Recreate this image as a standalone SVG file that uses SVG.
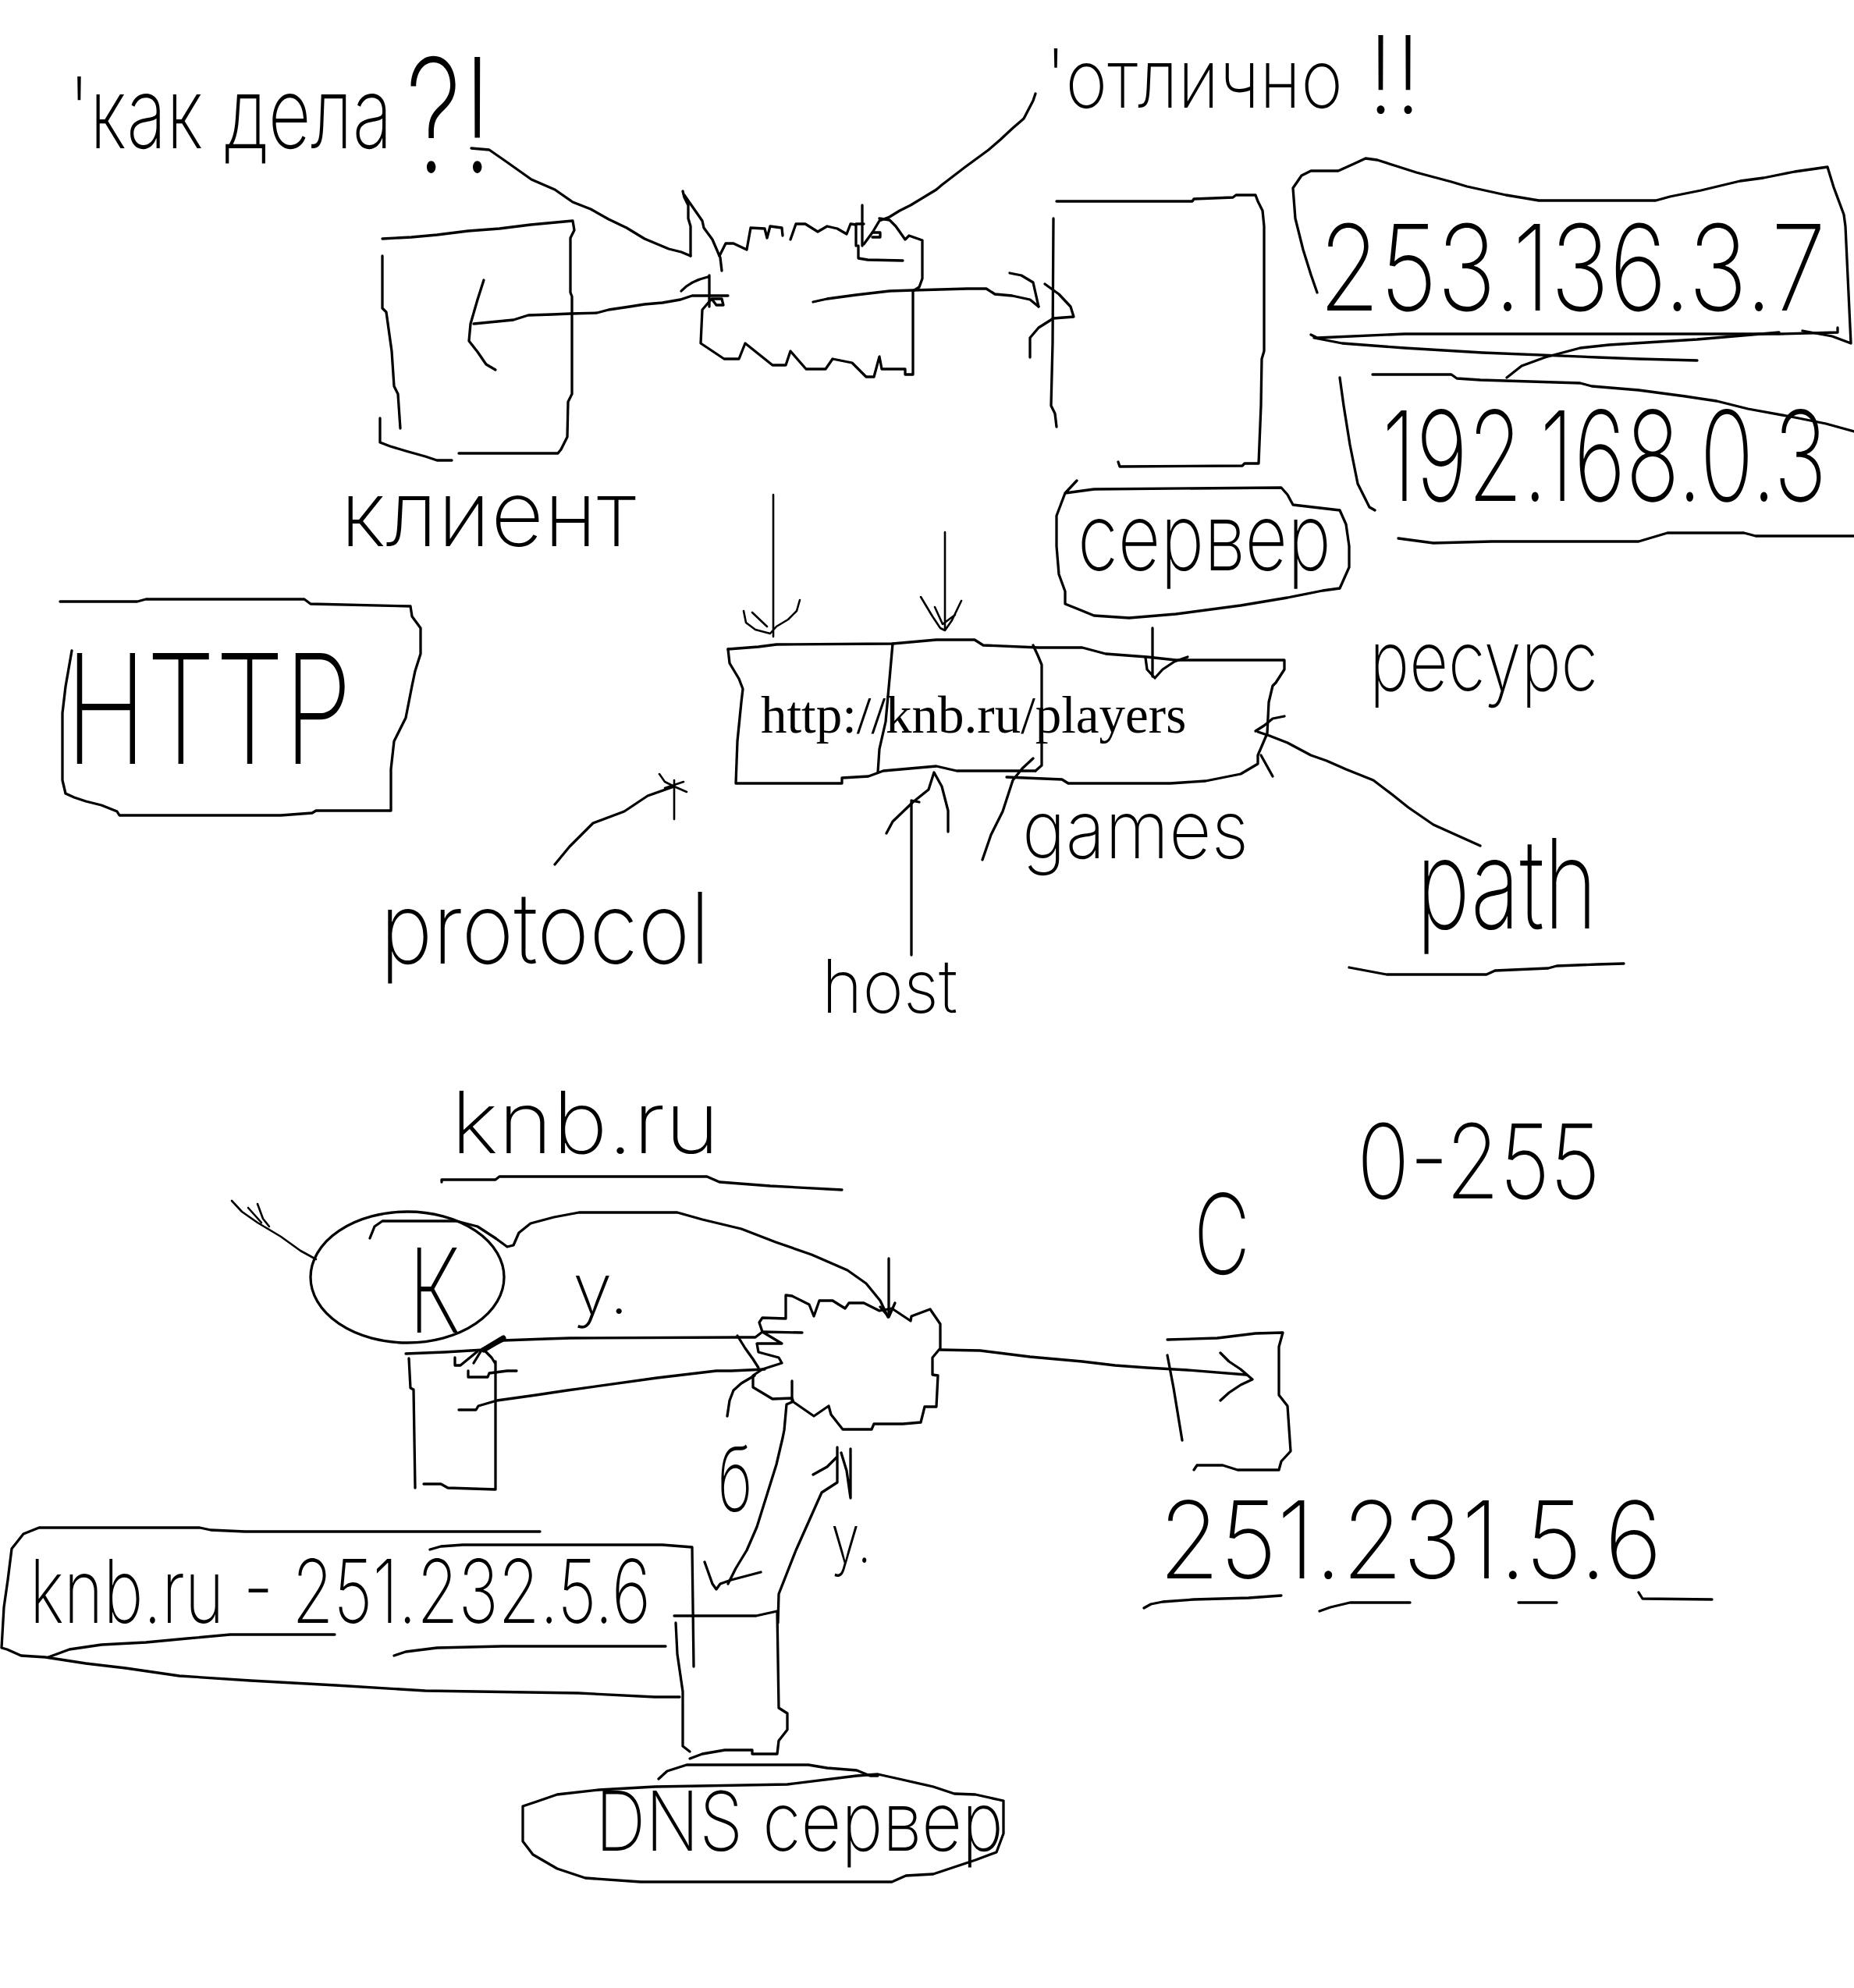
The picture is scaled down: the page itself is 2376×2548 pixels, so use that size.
<svg xmlns="http://www.w3.org/2000/svg" width="2376" height="2548" viewBox="0 0 2376 2548">
<style>
.s{fill:none;stroke:#000;stroke-width:3.3;stroke-linejoin:round;stroke-linecap:round}
.t{fill:none;stroke:#000;stroke-width:2.6;stroke-linejoin:round;stroke-linecap:round}
.h{font-family:Inter,"Liberation Sans","DejaVu Sans",sans-serif;font-weight:200;fill:#000}
.u{font-family:"Liberation Serif","Times New Roman",serif;font-size:67px;fill:#000}
</style>
<rect width="2376" height="2548" fill="#fff"/>

<g id="connectors">
  <path class="s" d="M604,190 L627,192 L650,208 L681,230 L711,243 L734,259 L757,268 L780,281 L803,292 L826,306 L857,319 L873,323 L885,328"/>
  <path class="s" d="M875,245 L877,253 L882,263 L882,280 L885,290 L885,328 M877,250 L900,283 L902,292 L913,307 L922,328"/>
  <path class="s" d="M1327,120 L1324,129 L1312,152 L1297,165 L1282,179 L1267,192 L1237,214 L1207,237 L1200,243 L1167,263 L1153,270 L1140,278 L1127,283 L1118,298 L1107,313"/>
  <path class="s" d="M1105,263 L1105,315 M1097,315 L1097,287 L1107,287 M1118,298 L1128,298 L1128,304 L1118,304 M1100,315 L1100,331 L1112,333 L1157,334"/>
  <path class="s" d="M933,379 L887,379 L872,384 L849,388 L826,390 L807,393 L780,397 L765,401 L731,402 L708,403 L677,404 L658,410 L607,415"/>
  <path class="s" d="M620,359 L612,384 L603,415 L601,437 L612,451 L623,467 L635,474"/>
  <path class="s" d="M909,353 L909,393 M873,373 Q885,360 907,355"/>
  <path class="s" d="M1042,387 L1060,383 L1097,378 L1140,373 L1170,372 L1240,370 L1264,370 L1275,377 L1297,379 L1320,384 L1331,393"/>
  <path class="s" d="M1294,350 L1309,353 L1324,362 L1331,393 M1339,364 L1357,377 L1372,393 L1376,406 L1350,408 L1331,420 L1320,433 L1320,458"/>
  <path class="s" d="M1684,433 L1720,440 L1800,446 L1900,452 L2047,458 L2100,460 L2175,462"/>
  <path class="s" d="M1931,484 L1950,469 L1980,458 L2025,446 L2062,442 L2175,435 L2280,426"/>
  <path class="t" d="M991,634 L991,816 M953,783 L956,798 L968,807 L987,812 M1025,769 L1021,783 L1010,794 L995,803 L987,812 M964,785 L983,803"/>
  <path class="t" d="M1211,682 L1211,808 M1180,765 L1195,790 L1205,805 L1211,808 L1220,795 L1232,770 M1198,778 L1208,800 L1224,788"/>
  <path class="s" d="M1477,805 L1477,867 M1468,843 L1470,858 L1480,869 L1490,858 L1505,848 L1522,842"/>
  <path class="s" d="M1897,1084 L1837,1057 L1805,1035 L1785,1019 L1760,1000 L1725,986 L1700,975 L1680,968 L1650,952 L1627,943 L1612,938"/>
  <path class="s" d="M1609,937 L1620,930 L1631,921 L1646,918 M1616,968 L1631,995"/>
  <path class="s" d="M1259,1102 L1270,1070 L1285,1040 L1298,1000 L1310,985 L1324,972"/>
  <path class="s" d="M1168,1224 L1168,1026 L1178,1028"/>
  <path class="s" d="M1136,1068 L1144,1053 L1170,1028 L1190,1012 L1197,990 L1207,1008 L1215,1039 L1215,1066"/>
  <path class="s" d="M711,1108 L730,1085 L760,1055 L800,1040 L830,1020 L864,1008"/>
  <path class="t" d="M845,992 L852,1002 L864,1008 L880,1015 M864,1000 L864,1050 M852,1010 L876,1002"/>
  <path class="t" d="M297,1539 L310,1553 L330,1567 L360,1585 L385,1603 L405,1614 M330,1543 L337,1562 L345,1572 M318,1548 L335,1567"/>
  <path class="s" d="M635,1587 L650,1598 L658,1596 L665,1580 L680,1568 L710,1560 L742,1554 L868,1554 L900,1563 L950,1575 L994,1592 L1040,1608 L1086,1628 L1110,1645 L1128,1667 L1138,1688"/>
  <path class="s" d="M1139,1613 L1139,1688 M1128,1675 L1139,1688 L1147,1670"/>
  <path class="s" d="M520,1735 L570,1733 L620,1730 L645,1718 L700,1716 L731,1715 L949,1714 L968,1714 L977,1707 L1028,1708"/>
  <path d="M620,1730 L645,1715" stroke="#000" stroke-width="7" stroke-linecap="round"/>
  <path class="s" d="M583,1740 L583,1750 L590,1750 L612,1732 M607,1747 L618,1729 M600,1757 L600,1765 L625,1765 L627,1760 L650,1757 L662,1757"/>
  <path class="s" d="M588,1807 L610,1807 L613,1802 L637,1795 L687,1788 L727,1782 L842,1766 L918,1757 L937,1757 L980,1755"/>
  <path class="s" d="M945,1712 L955,1728 L965,1742 L972,1753"/>
  <path class="s" d="M1205,1730 L1256,1731 L1320,1739 L1387,1745 L1429,1750 L1470,1753 L1522,1756 L1597,1762"/>
  <path class="s" d="M1564,1734 L1575,1745 L1590,1755 L1605,1768 L1590,1775 L1575,1785 L1564,1795"/>
  <path class="s" d="M1015,1770 L1015,1797 L1008,1800 L1005,1833 L1003,1843 L995,1877 L970,1957 L957,1987 L943,2010 L933,2030"/>
  <path class="s" d="M903,2002 L913,2030 L918,2037 L923,2030 L937,2025 L975,2015"/>
  <path class="s" d="M997,2080 L998,2043 L1020,1987 L1053,1913 L1073,1900 L1073,1855 M1042,1890 L1060,1880 L1073,1867 M1078,1862 L1085,1885 L1090,1920 M1090,1857 L1090,1920"/>
  <path class="s" d="M932,1815 L935,1795 L940,1782 L950,1773 L967,1763"/>
</g>

<g id="client-top">
  <path class="s" d="M490,306 L527,304 L560,301 L600,296 L640,293 L680,288 L734,283 L736,295 L731,305 L731,375 L733,380 L733,505 L728,515 L727,560 L719,576 L715,581 L588,581"/>
  <path class="s" d="M490,328 L490,395 L495,400 L502,450 L505,495 L510,505 L513,549 M487,536 L487,567 L500,572 L520,578 L545,585 L560,590 L579,590"/>
</g>

<g id="cloud-top">
  <path class="s" d="M922,328 L930,312 L940,312 L957,320 L962,292 L980,293 L983,305 L987,290 L1002,292 L1003,302 M1013,307 L1020,287 L1032,287 L1048,297 L1060,290 L1073,293 L1085,300 L1090,287 L1097,288 M1127,280 L1140,282 L1148,290 L1160,307 L1165,302 L1182,308 L1182,357 L1178,368 L1170,373 L1170,480 L1160,480 L1160,473 L1130,473 L1127,457 L1120,483 L1110,483 L1092,465 L1067,460 L1058,473 L1033,473 L1013,450 L1007,468 L990,468 L955,440 L947,460 L928,460 L898,440 L900,397 L912,383 L918,391 L927,391 L925,383 L912,383"/>
  <path class="s" d="M923,330 L925,347"/>
</g>

<g id="server-top">
  <path class="s" d="M1354,258 L1528,258 L1530,255 L1580,253 L1584,250 L1609,250 L1612,258 L1618,270 L1620,290 L1620,450 L1617,460 L1616,520 L1613,594 L1595,594 L1592,597 L1435,598 L1433,592"/>
  <path class="s" d="M1350,280 L1349,440 L1347,520 L1352,530 L1354,547"/>
</g>

<g id="server-label">
  <path class="s" d="M1380,616 L1365,632 L1402,627 L1642,625 L1650,634 L1657,647 L1717,654 L1725,672 L1729,700 L1729,727 L1717,754 L1695,757 L1650,766 L1590,776 L1507,787 L1447,792 L1402,789 L1380,780 L1365,774 L1365,758 L1357,736 L1354,700 L1354,661 L1365,632"/>
  <text class="h" transform="translate(1381,731) scale(1,1.25)" font-size="95" textLength="325" lengthAdjust="spacingAndGlyphs">сервер</text>
</g>

<g id="ip-public">
  <path class="s" d="M1688,375 L1680,352 L1670,320 L1660,280 L1657,241 L1668,225 L1680,219 L1715,219 L1735,210 L1750,203 L1765,205 L1790,213 L1815,221 L1860,233 L1880,239 L1930,250 L1972,257 L2122,257 L2140,252 L2180,244 L2230,232 L2260,228 L2300,220 L2342,214 L2350,240 L2363,275 L2365,290 L2372,440 L2348,431 L2310,424"/>
  <path class="s" d="M1680,429 L1688,433 L1800,428 L2280,428 L2355,426 L2355,420"/>
  <text class="h" transform="translate(1690,398) scale(1,1.34)" font-size="114" textLength="650" lengthAdjust="spacingAndGlyphs">253.136.3.7</text>
</g>

<g id="ip-private">
  <path class="s" d="M1759,480 L1860,480 L1867,485 L1897,487 L2025,491 L2040,495 L2100,500 L2160,508 L2200,514 L2240,524 L2300,535 L2340,543 L2376,553"/>
  <path class="s" d="M1717,484 L1722,520 L1730,570 L1740,620 L1755,650 L1762,654"/>
  <path class="s" d="M1792,690 L1837,696 L1912,694 L2100,694 L2137,683 L2235,683 L2250,687 L2376,687"/>
  <text class="h" transform="translate(1771,642) scale(1,1.6)" font-size="100" textLength="570" lengthAdjust="spacingAndGlyphs">192.168.0.3</text>
</g>

<g id="http">
  <path class="s" d="M77,771 L176,771 L187,768 L390,768 L398,774 L526,777 L528,790 L539,805 L539,838 L532,860 L528,879 L520,920 L505,950 L501,986 L501,1039 L405,1039 L400,1042 L360,1045 L153,1045 L150,1040 L130,1032 L110,1027 L95,1022 L84,1017 L80,1000 L80,914 L84,880 L92,834"/>
  <text class="h" transform="translate(84,979) scale(1,1.44)" font-size="136" textLength="367" lengthAdjust="spacingAndGlyphs">HTTP</text>
</g>

<g id="url">
  <path class="s" d="M933,832 L972,829 L995,826 L1144,825 L1200,820 L1249,820 L1260,827 L1331,830 L1387,830 L1417,838 L1470,842 L1507,846 L1646,846 L1646,858 L1635,875 L1631,879 L1626,900 L1624,940 L1612,968 L1612,979 L1590,992 L1545,1001 L1500,1004 L1369,1004 L1361,999 L1290,996"/>
  <path class="s" d="M933,832 L935,850 L947,870 L952,883 L950,900 L945,950 L943,1004 L1079,1004 L1079,997 L1113,995 L1132,988 L1200,982 L1226,988 L1327,988"/>
  <path class="s" d="M1144,825 L1140,870 L1135,925 L1127,960 L1125,990 M1324,827 L1330,840 L1335,852 L1335,981 L1327,988"/>
  <text class="u" x="975" y="939">http://knb.ru/players</text>
</g>

<g id="labels-top">
  <text class="h" transform="translate(88,190) scale(1,1.35)" font-size="94" textLength="415" lengthAdjust="spacingAndGlyphs">'как дела</text>
  <text class="h" transform="translate(520,221) scale(1,1.45)" font-size="140" textLength="112" lengthAdjust="spacingAndGlyphs">?!</text>
  <text class="h" transform="translate(1340,138) scale(1,1.13)" font-size="92" textLength="381" lengthAdjust="spacingAndGlyphs">'отлично</text>
  <text class="h" transform="translate(1752,145) scale(1,1.1)" font-size="125" textLength="70" lengthAdjust="spacingAndGlyphs">!!</text>
  <text class="h" transform="translate(436,700) scale(1,1.05)" font-size="112" textLength="379" lengthAdjust="spacingAndGlyphs">клиент</text>
  <text class="h" transform="translate(1755,885) scale(1,1.25)" font-size="86" textLength="293" lengthAdjust="spacingAndGlyphs">ресурс</text>
  <text class="h" transform="translate(1310,1100) scale(1,1.1)" font-size="94" textLength="290" lengthAdjust="spacingAndGlyphs">games</text>
  <text class="h" transform="translate(1815,1190) scale(1,1.45)" font-size="110" textLength="232" lengthAdjust="spacingAndGlyphs">path</text>
  <path class="s" d="M1729,1240 L1777,1249 L1905,1249 L1916,1244 L1984,1241 L1995,1238 L2047,1236 L2081,1235"/>
  <text class="h" transform="translate(487,1235) scale(1,1.17)" font-size="108" textLength="423" lengthAdjust="spacingAndGlyphs">protocol</text>
  <text class="h" transform="translate(1053,1298) scale(1,1.1)" font-size="86" textLength="174" lengthAdjust="spacingAndGlyphs">host</text>
</g>

<g id="domain-label">
  <text class="h" transform="translate(578,1478)" font-size="110" textLength="344" lengthAdjust="spacingAndGlyphs">knb.ru</text>
  <path class="s" d="M566,1515 L566,1512 L635,1512 L640,1508 L906,1508 L922,1515 L987,1520 L1079,1525"/>
</g>

<g id="client-bottom">
  <ellipse class="s" cx="522" cy="1637" rx="124" ry="84"/>
  <path class="s" d="M474,1587 L480,1572 L490,1565 L585,1565 L612,1572 L635,1587"/>
  <text class="h" transform="translate(524,1708) scale(1,1.5)" font-size="100" textLength="66" lengthAdjust="spacingAndGlyphs">К</text>
  <text class="h" transform="translate(734,1684)" font-size="90" textLength="72" lengthAdjust="spacingAndGlyphs">у.</text>
  <path class="s" d="M524,1741 L526,1779 L530,1781 L532,1907 M543,1902 L565,1902 L574,1907 L635,1909 M635,1745 L635,1909 M620,1730 L630,1740 L635,1748"/>
</g>

<g id="cloud-bottom">
  <path class="s" d="M1007,1660 L1015,1661 L1037,1672 L1043,1687 L1050,1667 L1067,1667 L1083,1677 L1088,1670 L1107,1670 L1127,1680 L1143,1677 L1167,1693 L1168,1687 L1192,1678 L1205,1697 L1205,1728 L1195,1740 L1195,1762 L1202,1763 L1200,1803 L1185,1803 L1180,1823 L1157,1825 L1120,1825 L1117,1832 L1080,1832 L1065,1813 L1062,1802 L1043,1815 L1017,1797 L1015,1792 L990,1793 L965,1778 L965,1763 L977,1755 L1002,1747 L998,1740 L972,1733 L970,1722 L1002,1722 L977,1707 L973,1695 L977,1689 L1007,1690 Z"/>
  <text class="h" transform="translate(920,1937) scale(1,1.5)" font-size="76" textLength="44" lengthAdjust="spacingAndGlyphs">б</text>
  <text class="h" transform="translate(1065,2003) scale(1,1.3)" font-size="66" textLength="52" lengthAdjust="spacingAndGlyphs">у.</text>
</g>

<g id="server-bottom">
  <text class="h" transform="translate(1530,1633) scale(1,1.37)" font-size="104" textLength="72" lengthAdjust="spacingAndGlyphs">С</text>
  <text class="h" transform="translate(1739,1536) scale(1,1.2)" font-size="110" textLength="312" lengthAdjust="spacingAndGlyphs">0-255</text>
  <path class="s" d="M1496,1717 L1560,1715 L1609,1709 L1644,1708 L1639,1726 L1639,1788 L1650,1802 L1654,1860 L1642,1873 L1639,1884 L1586,1884 L1567,1878 L1534,1878 L1530,1884"/>
  <path class="s" d="M1496,1737 L1504,1779 L1515,1846"/>
  <text class="h" transform="translate(1485,2023) scale(1,1.2)" font-size="114" textLength="645" lengthAdjust="spacingAndGlyphs">251.231.5.6</text>
  <path class="s" d="M1466,2061 L1475,2056 L1490,2053 L1530,2050 L1600,2048 L1642,2045 M1691,2065 L1705,2060 L1730,2054 L1807,2054 M1946,2054 L1995,2054 M2100,2041 L2105,2049 L2194,2050"/>
</g>

<g id="dns-record">
  <path class="s" d="M692,1963 L314,1963 L270,1961 L256,1958 L50,1958 L30,1966 L15,1985 L10,2025 L5,2060 L2,2112 L9,2114 L27,2122 L58,2124 L110,2132 L161,2138 L230,2148 L321,2154 L430,2160 L545,2167 L741,2170 L839,2175 L871,2175"/>
  <path class="s" d="M62,2124 L89,2114 L130,2108 L187,2105 L240,2100 L295,2095 L429,2095 M505,2122 L520,2117 L560,2112 L643,2110 L853,2110"/>
  <path class="s" d="M551,1986 L565,1982 L593,1980 L849,1980 L887,1983 L889,2136"/>
  <text class="h" transform="translate(38,2080) scale(1,1.45)" font-size="78" textLength="796" lengthAdjust="spacingAndGlyphs">knb.ru - 251.232.5.6</text>
</g>

<g id="dns-server">
  <path class="s" d="M864,2071 L969,2071 L996,2065 L998,2189 L1009,2196 L1009,2217 L998,2231 L996,2248 L964,2248 L964,2243 L929,2243 L900,2248 L884,2254"/>
  <path class="s" d="M866,2080 L868,2120 L875,2168 L875,2238 L884,2245"/>
  <path class="s" d="M670,2315 L670,2360 L683,2377 L714,2395 L750,2407 L821,2412 L1143,2412 L1161,2404 L1196,2402 L1250,2384 L1277,2374 L1286,2350 L1286,2308 L1250,2300 L1223,2299 L1196,2290 L1152,2280 L1125,2274 L1098,2276 L1009,2287 L839,2290 L768,2294 L714,2300 L688,2309 Z"/>
  <path class="s" d="M844,2280 L855,2270 L880,2262 L1036,2262 L1060,2266 L1098,2269 L1115,2276 L1125,2276"/>
  <text class="h" transform="translate(763,2372) scale(1,1.17)" font-size="90" textLength="523" lengthAdjust="spacingAndGlyphs">DNS сервер</text>
</g>
</svg>
